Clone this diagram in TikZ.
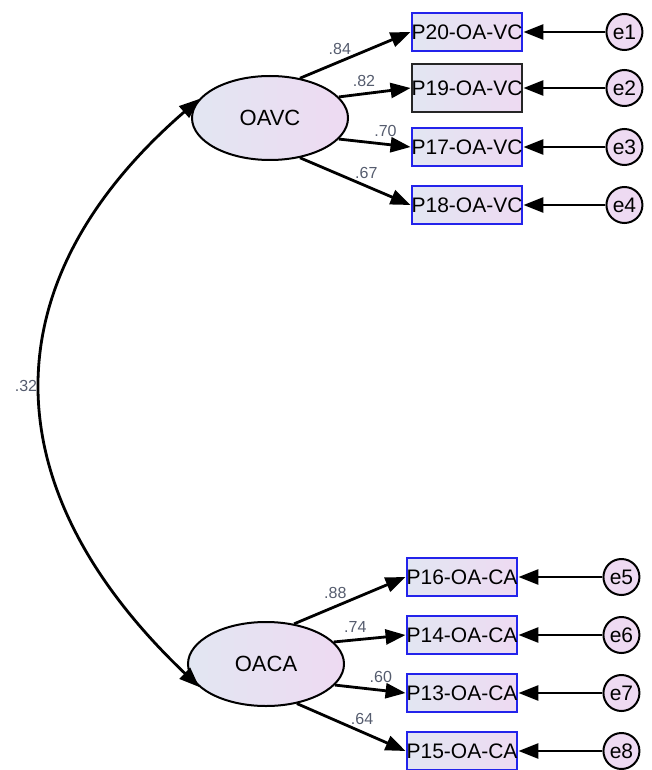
\documentclass[tikz,border=0pt]{standalone}
\usepackage{fontspec}
\setmainfont{Liberation Sans}
\usetikzlibrary{arrows.meta,positioning,shapes.geometric}
\definecolor{boxblue}{RGB}{35,35,235}
\definecolor{leftfill}{RGB}{226,230,242}
\definecolor{rightfill}{RGB}{238,218,242}
\definecolor{lblgray}{RGB}{85,92,110}
\tikzset{
>={Triangle[length=20pt,width=15pt]}, % big filled arrow heads
latent/.style={ellipse, draw, line width=2pt, minimum width=156pt, minimum height=84pt, left color=leftfill, right color=rightfill, font=\fontsize{22}{26}\selectfont}, % the two factors
observed/.style={rectangle, draw=boxblue, line width=2pt, minimum width=110pt, minimum height=38pt, inner sep=0pt, left color=leftfill, right color=rightfill, font=\fontsize{21}{25}\selectfont}, % the items
err/.style={circle, draw, line width=2pt, minimum size=36pt, inner sep=0pt, fill=rightfill, font=\fontsize{21}{25}\selectfont}, % error terms
load/.style={->, line width=2.8pt},
lbl/.style={above=5pt, inner sep=1pt, font=\fontsize{16}{19}\selectfont, text=lblgray}, % weights
}
\begin{document}
\begin{tikzpicture}[x=1pt, y=-1pt]
		\useasboundingbox (0,0) rectangle (652,770);
		% factors
		\node[latent] (OAVC) at (270,118) {OAVC};
		\node[latent] (OACA) at (266,664) {OACA};
		% items, upper block
		\node[observed] (P20) at (467,32) {P20-OA-VC};
		\node[observed, draw=black!85, minimum height=48pt] (P19) at (467,88) {P19-OA-VC};
		\node[observed] (P17) at (467,147) {P17-OA-VC};
		\node[observed] (P18) at (467,205) {P18-OA-VC};
		% items, lower block
		\node[observed] (P16) at (462,577) {P16-OA-CA};
		\node[observed] (P14) at (462,635) {P14-OA-CA};
		\node[observed] (P13) at (462,693) {P13-OA-CA};
		\node[observed] (P15) at (462,751) {P15-OA-CA};
		% errors
		\node[err, right=82pt of P20] (e1) {e1};
		\node[err, right=82pt of P19] (e2) {e2};
		\node[err, right=82pt of P17] (e3) {e3};
		\node[err, right=82pt of P18] (e4) {e4};
		\node[err, right=84pt of P16] (e5) {e5};
		\node[err, right=84pt of P14] (e6) {e6};
		\node[err, right=84pt of P13] (e7) {e7};
		\node[err, right=84pt of P15] (e8) {e8};

		\draw[load] (OAVC.53) -- node[lbl, pos=0.36] {.84} (P20.west);
		\draw[load] (OAVC.17) -- node[lbl, pos=0.35] {.82} (P19.west);
		\draw[load] (OAVC.-17) -- node[lbl, pos=0.65] {.70} (P17.west);
		\draw[load] (OAVC.-53) -- node[lbl, pos=0.6] {.67} (P18.west);

		\draw[load] (OACA.55) -- node[lbl, pos=0.37] {.88} (P16.west);
		\draw[load] (OACA.18) -- node[lbl, pos=0.3] {.74} (P14.west);
		\draw[load] (OACA.-17) -- node[lbl, pos=0.65] {.60} (P13.west);
		\draw[load] (OACA.-52) -- node[lbl, pos=0.6] {.64} (P15.west);

		\foreach \e/\p in {e1/P20, e2/P19, e3/P17, e4/P18, e5/P16, e6/P14, e7/P13, e8/P15}
			\draw[load] (\e) -- (\p);

		% covariance
		\draw[<->, line width=2.8pt] (OAVC.165) .. controls (-11,281) and (-11,487) .. node[left=2pt, inner sep=1pt, font=\fontsize{16}{19}\selectfont, text=lblgray] {.32} (OACA.199);
	\end{tikzpicture}
\end{document}
